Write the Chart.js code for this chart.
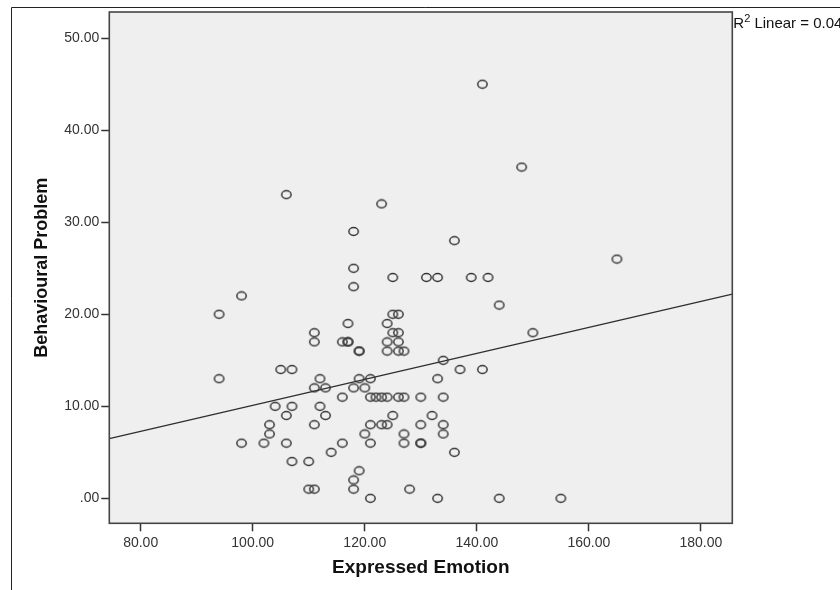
<!DOCTYPE html>
<html>
<head>
<meta charset="utf-8">
<title>Expressed Emotion vs Behavioural Problem</title>
<script src="https://cdn.jsdelivr.net/npm/chart.js@4.4.1/dist/chart.umd.min.js"></script>
<style>
  body { margin: 0; background: #fff; }
  canvas { display: block; }
</style>
</head>
<body>
<canvas id="scatter" width="840" height="590"></canvas>
<script>
// values
const expressedEmotion = [
  98, 94, 111, 111, 105, 107, 94, 111, 104, 107, 106, 111, 103, 103, 98, 102, 106, 107, 110, 110, 111,
  118, 144, 125, 126, 117, 124, 125, 126, 116, 117, 117, 124, 126, 119, 119, 124, 126, 127,
  134, 137, 141, 112, 119, 121, 133, 113, 118, 120, 116, 121, 122, 123, 124, 126, 127, 130, 134,
  112, 113, 125, 132, 121, 123, 124, 130, 134, 120, 127, 134, 116, 121, 127, 130, 130,
  114, 136, 119, 118, 118, 128, 121, 133, 144,
  165, 142, 150, 155, 148, 106, 123, 118, 136, 118, 125, 131, 133, 139, 141
];
const behaviouralProblem = [
  22, 20, 18, 17, 14, 14, 13, 12, 10, 10, 9, 8, 8, 7, 6, 6, 6, 4, 4, 1, 1,
  23, 21, 20, 20, 19, 19, 18, 18, 17, 17, 17, 17, 17, 16, 16, 16, 16, 16,
  15, 14, 14, 13, 13, 13, 13, 12, 12, 12, 11, 11, 11, 11, 11, 11, 11, 11, 11,
  10, 9, 9, 9, 8, 8, 8, 8, 8, 7, 7, 7, 6, 6, 6, 6, 6,
  5, 5, 3, 2, 1, 1, 0, 0, 0,
  26, 24, 18, 0, 36, 33, 32, 29, 28, 25, 24, 24, 24, 24, 45
];
// fit line as drawn, at the edges of the plot
const fitLineX = [74.4, 185.6];
const fitLineY = [6.5, 22.2];

const xTicks = [80, 100, 120, 140, 160, 180];
const yTicks = [0, 10, 20, 30, 40, 50];
const rSquaredText = " Linear = 0.048";

const FONT = "'Liberation Sans', Arial, sans-serif";

function ringMarker() {
  const c = document.createElement("canvas");
  c.width = 13;
  c.height = 11;
  const g = c.getContext("2d");
  g.strokeStyle = "#363636";
  g.lineWidth = 1.5;
  g.beginPath();
  g.ellipse(6.5, 5.5, 4.7, 3.9, 0, 0, Math.PI * 2);
  g.stroke();
  return c;
}

function spssLabel(v) {
  return v === 0 ? ".00" : v.toFixed(2);
}

const framePlugin = {
  id: "frame",
  beforeDraw(chart) {
    const { ctx, chartArea: a } = chart;
    ctx.save();
    ctx.fillStyle = "#efefef";
    ctx.fillRect(a.left, a.top, a.right - a.left, a.bottom - a.top);
    ctx.strokeStyle = "#222";
    ctx.lineWidth = 1;
    ctx.beginPath();
    ctx.moveTo(11.5, 590);
    ctx.lineTo(11.5, 7.5);
    ctx.lineTo(840, 7.5);
    ctx.stroke();
    ctx.restore();
  },
  afterDraw(chart) {
    const { ctx, chartArea: a } = chart;
    ctx.save();
    ctx.strokeStyle = "#444";
    ctx.lineWidth = 1.6;
    ctx.strokeRect(a.left, a.top, a.right - a.left, a.bottom - a.top);

    // R² label to the right of the plot
    ctx.fillStyle = "#111";
    ctx.textBaseline = "middle";
    ctx.textAlign = "left";
    let x = a.right + 1;
    ctx.font = "15px " + FONT;
    ctx.fillText("R", x, 23.5);
    x += ctx.measureText("R").width;
    ctx.font = "11px " + FONT;
    ctx.fillText("2", x, 19);
    x += ctx.measureText("2").width;
    ctx.font = "15px " + FONT;
    ctx.fillText(rSquaredText, x, 23.5);
    ctx.restore();
  }
};

new Chart(document.getElementById("scatter"), {
  type: "scatter",
  data: {
    datasets: [
      {
        label: "Behavioural Problem",
        data: expressedEmotion.map((x, i) => ({ x, y: behaviouralProblem[i] })),
        pointStyle: ringMarker(),
        pointRadius: 4,
        pointHoverRadius: 4
      },
      {
        label: "Fit line",
        data: fitLineX.map((x, i) => ({ x, y: fitLineY[i] })),
        showLine: true,
        borderColor: "#2e2e2e",
        borderWidth: 1.3,
        pointRadius: 0,
        fill: false
      }
    ]
  },
  options: {
    responsive: false,
    animation: false,
    layout: { padding: { left: 0, right: 107.7, top: 12, bottom: 0 } },
    plugins: { legend: { display: false }, tooltip: { enabled: false } },
    scales: {
      x: {
        type: "linear",
        min: 74.4,
        max: 185.6,
        afterBuildTicks: s => { s.ticks = xTicks.map(v => ({ value: v })); },
        afterFit: s => { s.height = 66.7; },
        grid: { drawOnChartArea: false, tickLength: 8, tickColor: "#333", tickWidth: 1.5 },
        border: { display: false },
        ticks: {
          callback: v => spssLabel(v),
          color: "#333",
          font: { family: FONT, size: 14 },
          padding: 3,
          maxRotation: 0
        },
        title: {
          display: true,
          text: "Expressed Emotion",
          color: "#111",
          font: { family: FONT, size: 19, weight: "bold" },
          padding: { top: 0, bottom: 10.6 }
        }
      },
      y: {
        type: "linear",
        min: -2.71,
        max: 52.85,
        afterBuildTicks: s => { s.ticks = yTicks.map(v => ({ value: v })); },
        afterFit: s => { s.width = 109.3; },
        grid: { drawOnChartArea: false, tickLength: 8, tickColor: "#333", tickWidth: 1.5 },
        border: { display: false },
        ticks: {
          callback: v => spssLabel(v),
          color: "#333",
          font: { family: FONT, size: 14 },
          padding: 2
        },
        title: {
          display: true,
          text: "Behavioural Problem",
          color: "#111",
          font: { family: FONT, size: 18, weight: "bold" },
          padding: { top: 30.9, bottom: 0 }
        }
      }
    }
  },
  plugins: [framePlugin]
});
</script>
</body>
</html>
